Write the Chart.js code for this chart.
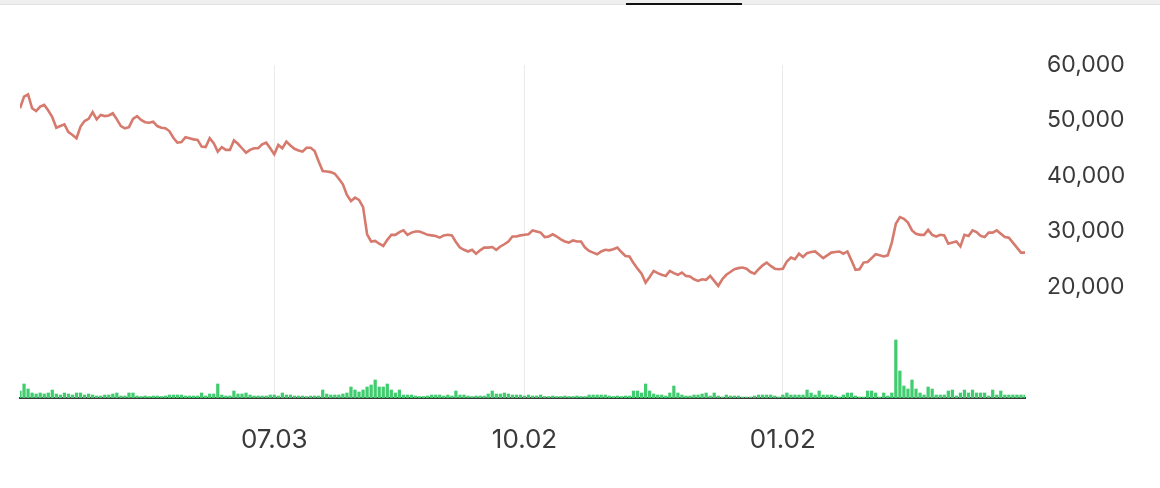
<!DOCTYPE html>
<html>
<head>
<meta charset="utf-8">
<script src="https://cdn.jsdelivr.net/npm/chart.js@4.4.1/dist/chart.umd.min.js"></script>
<style>
  html, body { margin: 0; padding: 0; background: #fff; }
  #wrap { position: relative; width: 1160px; height: 488px; }
  #topbar { position: absolute; left: 0; top: 0; width: 1160px; height: 4px; background: #efefef; border-bottom: 1px solid #e2e2e2; }
  #tab { position: absolute; left: 626px; top: 3px; width: 116px; height: 2px; background: #111; }
</style>
</head>
<body>
<div id="wrap">
  <canvas id="myChart" width="1160" height="488"></canvas>
  <div id="topbar"></div>
  <div id="tab"></div>
</div>
<script>
// daily close, one point per trading day
const prices = [
  52200, 54300, 54700, 52200, 51700, 52500, 52800, 51800, 50600, 48700,
  49000, 49300, 47900, 47400, 46800, 48900, 49900, 50300, 51500, 50200,
  51000, 50800, 50900, 51300, 50200, 49000, 48600, 48800, 50300, 50800,
  50100, 49700, 49600, 49800, 49000, 48700, 48600, 48100, 46900, 46000,
  46100, 47000, 46800, 46600, 46500, 45300, 45200, 46800, 45900, 44400,
  45200, 44700, 44700, 46400, 45800, 45000, 44200, 44700, 45000, 45000,
  45700, 46000, 45000, 43900, 45600, 45000, 46200, 45500, 44900, 44600,
  44400, 45100, 45100, 44500, 42600, 40900, 40800, 40700, 40400, 39500,
  38500, 36600, 35500, 36100, 35700, 34400, 29500, 28200, 28300, 27800,
  27400, 28500, 29400, 29400, 29900, 30200, 29400, 29800, 30000, 30000,
  29700, 29400, 29300, 29200, 28900, 29300, 29400, 29300, 28100, 27100,
  26700, 26400, 26700, 26000, 26600, 27100, 27100, 27200, 26700, 27300,
  27700, 28200, 29100, 29100, 29300, 29400, 29500, 30200, 30000, 29800,
  29000, 29100, 29500, 29100, 28600, 28200, 28000, 28400, 28200, 28200,
  27100, 26500, 26200, 25900, 26400, 26700, 26600, 26800, 27100, 26300,
  25600, 25500, 24300, 23300, 22400, 20800, 21800, 22900, 22500, 22200,
  22000, 22900, 22500, 22200, 22600, 22000, 21900, 21400, 21100, 21400,
  21300, 22000, 21100, 20200, 21400, 22200, 22700, 23200, 23400, 23500,
  23300, 22700, 22400, 23200, 23900, 24400, 23800, 23300, 23200, 23300,
  24600, 25300, 25000, 26000, 25400, 26100, 26300, 26400, 25800, 25200,
  25700, 26200, 26300, 26400, 26000, 26400, 24800, 23100, 23200, 24400,
  24500, 25200, 25900, 25700, 25500, 25700, 28000, 31400, 32600, 32300,
  31600, 30200, 29600, 29400, 29400, 30300, 29400, 29100, 29400, 29300,
  27800, 28000, 28200, 27300, 29400, 29200, 30200, 29900, 29200, 29000,
  29800, 29800, 30200, 29600, 29000, 28900, 28000, 27100, 26200, 26200
];

// daily volume (thousand shares)
const volumes = [
   700, 1400,  900,  500,  400,  500,  400,  500,  800,  400,
   300,  500,  400,  300,  500,  500,  300,  400,  300,  200,
   200,  300,  300,  400,  500,  200,  200,  500,  500,  200,
   150,  200,  150,  200,  200,  150,  200,  300,  300,  300,
   300,  200,  200,  200,  200,  500,  200,  400,  400, 1400,
   300,  200,  200,  700,  400,  400,  500,  300,  200,  200,
   200,  200,  300,  300,  200,  500,  300,  300,  200,  200,
   200,  150,  200,  200,  200,  800,  400,  300,  300,  300,
   400,  500, 1100,  800,  600,  800, 1100, 1300, 1800, 1100,
  1100, 1400,  800,  500,  800,  300,  300,  300,  200,  150,
   150,  200,  300,  300,  300,  200,  300,  200,  700,  300,
   300,  200,  150,  200,  200,  200,  400,  700,  400,  400,
   500,  400,  300,  300,  300,  200,  300,  200,  200,  300,
   150,  150,  200,  150,  150,  200,  150,  150,  200,  150,
   150,  300,  300,  300,  300,  300,  200,  150,  200,  150,
   200,  200,  700,  700,  500, 1400,  700,  400,  300,  300,
   200,  500, 1200,  500,  300,  200,  200,  300,  300,  400,
   500,  200,  500,  200,  100,  300,  200,  200,  200,  100,
   100,  100,  200,  300,  300,  300,  300,  200,  100,  300,
   500,  300,  300,  300,  300,  800,  500,  300,  700,  300,
   300,  300,  200,  100,  300,  500,  500,  200,  100,  100,
   700,  700,  500,  100,  500,  200,  500, 5800, 2700, 1200,
   900, 1800,  900,  500,  300, 1100,  900,  300,  300,  300,
   700,  800,  200,  500,  800,  500,  800,  500,  500,  500,
   200,  800,  300,  700,  300,  300,  300,  300,  300,  300
];

// x tick labels (MM.DD) and the trading-day index they sit on
const xTickLabels = ['07.03', '10.02', '01.02'];
const xTickIndex = [63, 125, 189];

// price axis ticks
const yTicks = [20000, 30000, 40000, 50000, 60000];

const textColor = '#3a3a3a';

document.addEventListener('DOMContentLoaded', () => {
    const ctx = document.getElementById('myChart');
    new Chart(ctx, {
        type: 'line',
        data: {
            datasets: [{
                label: 'Close',
                data: prices.map((v, i) => ({ x: i, y: v })),
                yAxisID: 'y',
                borderColor: 'rgb(214, 122, 110)',
                borderWidth: 2.6,
                pointRadius: 0,
                tension: 0,
                order: 1
            }, {
                type: 'bar',
                label: 'Volume',
                data: volumes.map((v, i) => ({ x: i, y: v })),
                yAxisID: 'yv',
                backgroundColor: 'rgb(66, 204, 112)',
                barThickness: 2.6,
                order: 2
            }]
        },
        options: {
            responsive: false,
            animation: false,
            layout: { padding: { top: 65, left: 20, right: 0, bottom: 0 } },
            plugins: {
                legend: { display: false },
                tooltip: { enabled: false }
            },
            scales: {
                x: {
                    type: 'linear',
                    min: 0,
                    max: prices.length - 1,
                    offset: false,
                    afterBuildTicks: axis => {
                        axis.ticks = xTickIndex.map(v => ({ value: v }));
                    },
                    afterFit: axis => { axis.height = 90; },
                    ticks: {
                        autoSkip: false,
                        maxRotation: 0,
                        padding: 27,
                        color: textColor,
                        font: { family: 'Inter', size: 26 },
                        callback: v => xTickLabels[xTickIndex.indexOf(v)]
                    },
                    grid: { offset: false, color: '#ebebeb', lineWidth: 1, drawTicks: false },
                    border: { display: true, color: '#3a3a3a', width: 2 }
                },
                y: {
                    position: 'right',
                    min: 0,
                    max: 60000,
                    afterBuildTicks: axis => {
                        axis.ticks = yTicks.map(v => ({ value: v }));
                    },
                    afterFit: axis => { axis.width = 135; },
                    ticks: {
                        padding: 22,
                        color: textColor,
                        font: { family: 'Inter', size: 23 },
                        callback: v => v.toLocaleString('en-US')
                    },
                    grid: { display: false, drawTicks: false },
                    border: { display: false }
                },
                yv: {
                    display: false,
                    min: 0,
                    max: 33300
                }
            }
        }
    });
});
</script>
</body>
</html>
